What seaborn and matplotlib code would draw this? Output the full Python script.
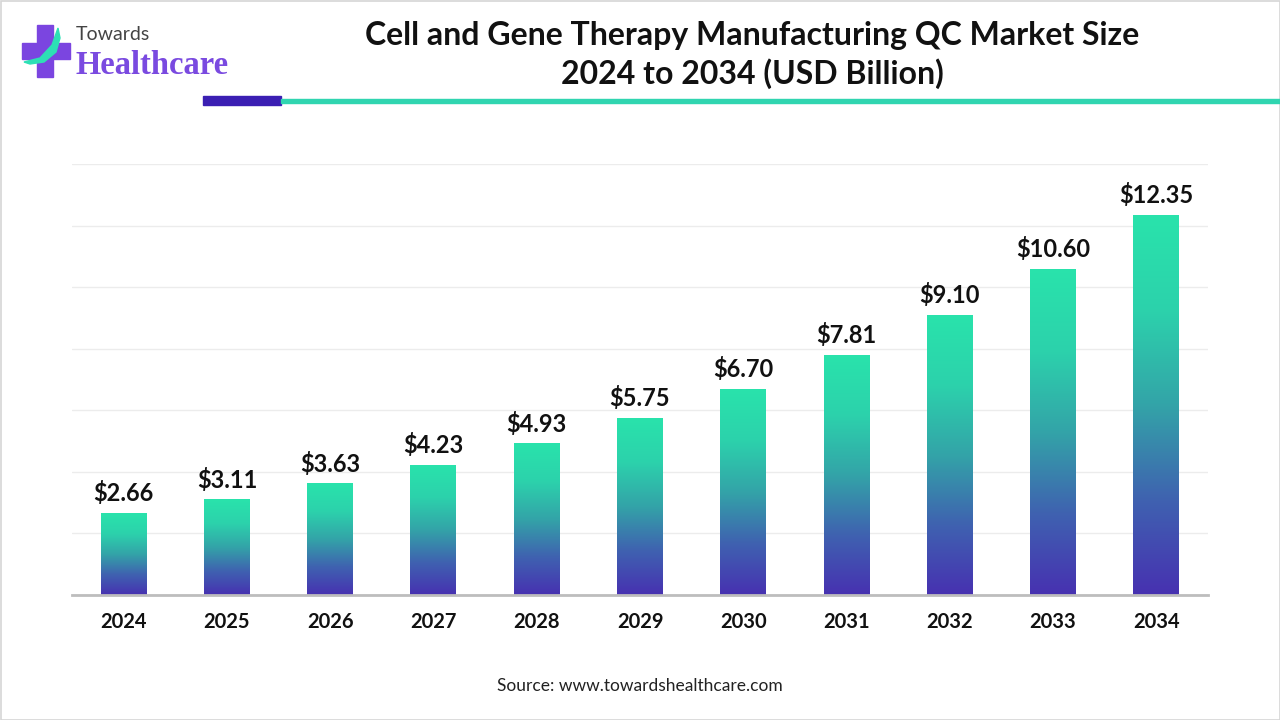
import numpy as np
import pandas as pd
import matplotlib
matplotlib.use("Agg")
import matplotlib.pyplot as plt
import seaborn as sns
from matplotlib.colors import LinearSegmentedColormap
from matplotlib.patches import Rectangle, Polygon

years = ["2024", "2025", "2026", "2027", "2028", "2029", "2030", "2031", "2032", "2033", "2034"]
values = [2.66, 3.11, 3.63, 4.23, 4.93, 5.75, 6.70, 7.81, 9.10, 10.60, 12.35]
value_labels = ["$2.66", "$3.11", "$3.63", "$4.23", "$4.93", "$5.75", "$6.70", "$7.81", "$9.10", "$10.60", "$12.35"]
title_lines = ["Cell and Gene Therapy Manufacturing QC Market Size", "2024 to 2034 (USD Billion)"]
source_text = "Source: www.towardshealthcare.com"

sns.set_theme(style="white")
plt.rcParams['font.family'] = ['Lato', 'DejaVu Sans']

fig = plt.figure(figsize=(12.8, 7.2), dpi=100)
fig.patch.set_facecolor("white")

ax = fig.add_axes([72/1280, 1-595/720, (1208-72)/1280, (595-164)/720])
df = pd.DataFrame({"year": years, "value": values})
sns.barplot(data=df, x="year", y="value", ax=ax, width=0.445, color="#2ae2ab", saturation=1)

ax.set_ylim(0, 14)
ax.set_xlim(-0.5, 10.5)
ax.set_yticks(np.arange(0, 15, 2))
ax.yaxis.grid(True, color="#ececec", linewidth=1)
ax.set_axisbelow(True)
ax.tick_params(axis="y", left=False, labelleft=False)
ax.tick_params(axis="x", bottom=False, pad=6.5)
for lab in ax.get_xticklabels():
    lab.set_fontweight("bold")
    lab.set_fontsize(14.5)
    lab.set_color("#111111")
ax.set_xlabel("")
ax.set_ylabel("")
for s in ["top", "right", "left"]:
    ax.spines[s].set_visible(False)
ax.spines["bottom"].set_color("#bdbdbd")
ax.spines["bottom"].set_linewidth(2)

cmap = LinearSegmentedColormap.from_list("g", [(0, "#4731b1"), (0.25, "#3f62b0"), (0.5, "#33a4a8"), (0.75, "#2cd2ac"), (1, "#29e3ab")])
grad = np.linspace(0, 1, 256).reshape(-1, 1)
for p, v, lbl in zip(ax.patches, values, value_labels):
    x0 = p.get_x(); w = p.get_width(); h = p.get_height()
    p.set_facecolor("none"); p.set_edgecolor("none")
    im = ax.imshow(grad, cmap=cmap, aspect="auto", origin="lower",
                   extent=[x0, x0 + w, 0, h], zorder=2)
    im.set_clip_path(p)
    ax.text(x0 + w/2, h + 0.25, lbl, ha="center", va="bottom", fontsize=17,
            fontweight="bold", color="#111111")
ax.set_xlim(-0.5, 10.5)
ax.set_ylim(0, 14)

# overlay for decorations
ov = fig.add_axes([0, 0, 1, 1], zorder=-1)
ov.set_xlim(0, 1280); ov.set_ylim(720, 0); ov.axis("off")
ov.add_patch(Rectangle((0.5, 0.5), 1279, 719, fill=False, edgecolor="#d5d5d5", linewidth=1.2))
ov.add_patch(Rectangle((203, 96), 78, 9, color="#3b1fb3"))
ov.add_patch(Rectangle((281, 99), 999, 4, color="#30d5b0"))

fig.text(752/1280, 1-36/720, title_lines[0], ha="center", va="center", fontsize=23, fontweight="bold", color="#111111")
fig.text(752/1280, 1-74/720, title_lines[1], ha="center", va="center", fontsize=23, fontweight="bold", color="#111111")
fig.text(640/1280, 1-686/720, source_text, ha="center", va="center", fontsize=12.5, color="#222222")

# logo
lg = fig.add_axes([0, 0, 1, 1], zorder=5)
lg.set_xlim(0, 1280); lg.set_ylim(720, 0); lg.axis("off")
lg.patch.set_alpha(0)
lg.add_patch(Rectangle((37, 25), 16, 52, color="#7b45e0"))
lg.add_patch(Rectangle((22, 43), 48, 16, color="#7b45e0"))
lg.add_patch(Polygon([[24, 62], [40, 58], [52, 45], [58, 28], [60, 38], [56, 52], [44, 62], [30, 64]], closed=True, color="#2de0b5"))
lg.text(76, 35, "Towards", ha="left", va="center", fontsize=14, color="#444444", fontfamily="Lato")
lg.text(75, 66, "Healthcare", ha="left", va="center", fontsize=23.5, fontweight="bold", color="#7a4ae0", fontfamily="Liberation Serif")

fig.savefig("out.png", dpi=100, facecolor="white")
